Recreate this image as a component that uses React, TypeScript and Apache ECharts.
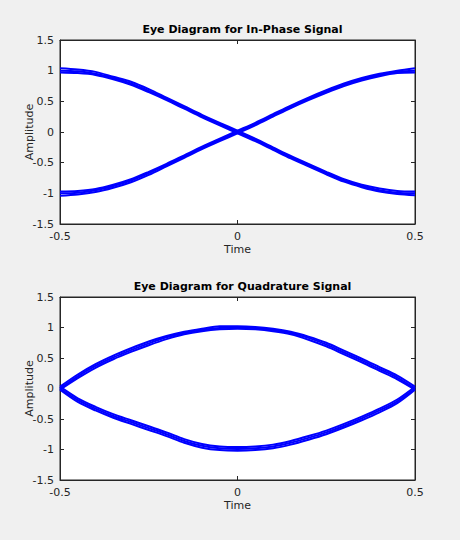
import React, { useEffect, useRef } from "react";
import * as echarts from "echarts";

const TIME = [-0.5, -0.45, -0.4, -0.35, -0.3, -0.25, -0.2, -0.15, -0.1, -0.05, 0, 0.05, 0.1, 0.15, 0.2, 0.25, 0.3, 0.35, 0.4, 0.45, 0.5];

const I_DOWN_A = [1.0, 0.99, 0.95, 0.88, 0.79, 0.67, 0.54, 0.4, 0.26, 0.13, 0.0, -0.13, -0.27, -0.41, -0.54, -0.67, -0.79, -0.88, -0.95, -0.99, -1.0];
const I_DOWN_B = [1.04, 1.02, 0.98, 0.9, 0.82, 0.7, 0.56, 0.42, 0.28, 0.15, 0.02, -0.11, -0.25, -0.39, -0.52, -0.65, -0.77, -0.86, -0.92, -0.96, -0.97];
const I_DOWN_C = [0.97, 0.96, 0.93, 0.86, 0.77, 0.65, 0.52, 0.38, 0.24, 0.11, -0.02, -0.15, -0.29, -0.43, -0.56, -0.69, -0.81, -0.9, -0.97, -1.01, -1.03];
const I_UP_A = [-1.0, -0.99, -0.95, -0.88, -0.79, -0.67, -0.54, -0.4, -0.26, -0.13, 0.0, 0.13, 0.27, 0.41, 0.54, 0.66, 0.77, 0.86, 0.93, 0.98, 1.0];
const I_UP_B = [-1.04, -1.02, -0.98, -0.91, -0.82, -0.7, -0.56, -0.42, -0.28, -0.15, -0.02, 0.11, 0.25, 0.39, 0.52, 0.64, 0.75, 0.84, 0.91, 0.96, 0.97];
const I_UP_C = [-0.97, -0.96, -0.93, -0.86, -0.77, -0.65, -0.52, -0.38, -0.24, -0.11, 0.02, 0.15, 0.29, 0.43, 0.56, 0.68, 0.79, 0.88, 0.95, 1.0, 1.04];

const Q_TOP_A = [0.0, 0.2, 0.37, 0.51, 0.63, 0.74, 0.84, 0.91, 0.96, 0.99, 1.0, 0.99, 0.96, 0.91, 0.83, 0.72, 0.59, 0.46, 0.32, 0.18, 0.0];
const Q_TOP_B = [0.03, 0.23, 0.4, 0.54, 0.66, 0.77, 0.86, 0.93, 0.98, 1.02, 1.02, 1.01, 0.98, 0.93, 0.85, 0.75, 0.62, 0.49, 0.35, 0.21, 0.03];
const Q_TOP_C = [-0.02, 0.17, 0.34, 0.48, 0.6, 0.71, 0.81, 0.89, 0.94, 0.97, 0.98, 0.97, 0.94, 0.89, 0.8, 0.69, 0.56, 0.43, 0.29, 0.15, -0.02];
const Q_BOT_A = [0.0, -0.19, -0.33, -0.45, -0.55, -0.65, -0.75, -0.86, -0.94, -0.98, -0.99, -0.98, -0.95, -0.89, -0.81, -0.72, -0.61, -0.49, -0.36, -0.21, 0.0];
const Q_BOT_B = [0.03, -0.16, -0.3, -0.42, -0.52, -0.62, -0.72, -0.83, -0.91, -0.95, -0.96, -0.95, -0.92, -0.86, -0.78, -0.69, -0.58, -0.46, -0.33, -0.18, 0.03];
const Q_BOT_C = [-0.02, -0.22, -0.36, -0.48, -0.58, -0.68, -0.78, -0.89, -0.97, -1.01, -1.02, -1.01, -0.98, -0.92, -0.84, -0.75, -0.64, -0.52, -0.39, -0.24, -0.02];

const X_TICKS = [-0.5, 0, 0.5];
const Y_TICKS = [-1.5, -1, -0.5, 0, 0.5, 1, 1.5];

const TITLES = ["Eye Diagram for In-Phase Signal", "Eye Diagram for Quadrature Signal"];
const X_LABEL = "Time";
const Y_LABEL = "Amplitude";

const I_TRACES = [I_DOWN_A, I_DOWN_B, I_DOWN_C, I_UP_A, I_UP_B, I_UP_C];
const Q_TRACES = [Q_TOP_A, Q_TOP_B, Q_TOP_C, Q_BOT_A, Q_BOT_B, Q_BOT_C];

const FONT = "DejaVu Sans";
const AX = "#262626";

export default function App() {
  const ref = useRef<HTMLDivElement>(null);
  useEffect(() => {
    if (!ref.current) return;
    const chart = echarts.init(ref.current, undefined, { renderer: "svg" });
    const grids = [
      { left: 60, top: 40, width: 355, height: 184 },
      { left: 60, top: 297, width: 355, height: 183 },
    ];
    const xAxes: any[] = [];
    const yAxes: any[] = [];
    grids.forEach((_, gi) => {
      const common = {
        gridIndex: gi,
        type: "value",
        axisLine: { show: true, onZero: false, lineStyle: { color: AX, width: 1 } },
        axisTick: { show: true, inside: true, length: 4, lineStyle: { color: AX } },
        splitLine: { show: false },
      };
      xAxes.push({
        ...common,
        position: "bottom",
        min: X_TICKS[0],
        max: X_TICKS[X_TICKS.length - 1],
        interval: 0.5,
        name: X_LABEL,
        nameLocation: "middle",
        nameGap: 20,
        nameMoveOverlap: false,
        nameTextStyle: { color: AX, fontFamily: FONT, fontSize: 11 },
        axisLabel: { color: AX, fontFamily: FONT, fontSize: 11, margin: 7, formatter: (v: number) => String(v) },
      });
      xAxes.push({
        ...common,
        position: "top",
        min: X_TICKS[0],
        max: X_TICKS[X_TICKS.length - 1],
        interval: 0.5,
        axisLabel: { show: false },
      });
      yAxes.push({
        ...common,
        position: "left",
        min: Y_TICKS[0],
        max: Y_TICKS[Y_TICKS.length - 1],
        interval: 0.5,
        name: Y_LABEL,
        nameLocation: "middle",
        nameGap: 25,
        nameRotate: 90,
        nameMoveOverlap: false,
        nameTextStyle: { color: AX, fontFamily: FONT, fontSize: 11 },
        axisLabel: { color: AX, fontFamily: FONT, fontSize: 11, margin: 6, formatter: (v: number) => String(v) },
      });
      yAxes.push({
        ...common,
        position: "right",
        min: Y_TICKS[0],
        max: Y_TICKS[Y_TICKS.length - 1],
        interval: 0.5,
        axisLabel: { show: false },
      });
    });

    const series: any[] = [];
    [I_TRACES, Q_TRACES].forEach((traces, gi) => {
      traces.forEach((tr) => {
        series.push({
          type: "line",
          xAxisIndex: gi * 2,
          yAxisIndex: gi * 2,
          data: TIME.map((t, i) => [t, tr[i]]),
          showSymbol: false,
          smooth: 0.3,
          lineStyle: { color: "#0000ff", width: 2 },
          silent: true,
        });
      });
    });

    chart.setOption({
      animation: false,
      backgroundColor: "#f0f0f0",
      title: TITLES.map((t, i) => ({
        text: t,
        left: 237.5,
        top: i === 0 ? 19 : 276,
        textAlign: "center",
        textStyle: { fontFamily: FONT, fontSize: 11, fontWeight: "bold", color: "#000" },
      })),
      grid: grids.map((g) => ({ ...g, show: true, backgroundColor: "#fff", borderColor: AX, borderWidth: 1 })),
      xAxis: xAxes,
      yAxis: yAxes,
      series,
    });
    return () => chart.dispose();
  }, []);
  return (
    <div
      ref={ref}
      style={{ position: "absolute", left: 0, top: 0, width: 460, height: 540 }}
    />
  );
}
